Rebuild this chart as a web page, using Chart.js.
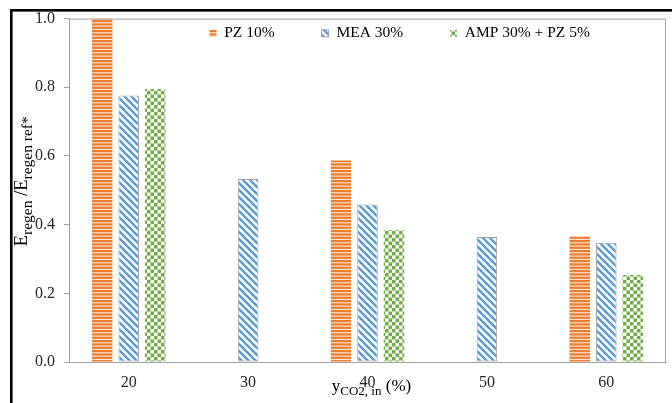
<!DOCTYPE html>
<html>
<head>
<meta charset="utf-8">
<script src="https://cdn.jsdelivr.net/npm/chart.js@4/dist/chart.umd.min.js"></script>
<style>
  html, body { margin: 0; padding: 0; background: #ffffff; }
  #wrap { width: 672px; height: 403px; position: relative; }
</style>
</head>
<body>
<div id="wrap"><canvas id="c" width="672" height="403"></canvas></div>
<script>
// CO2 inlet fraction (%) and relative regeneration energy per solvent
const categories = ['20', '30', '40', '50', '60'];
const pz10 = [1.0, null, 0.587, null, 0.366];
const mea30 = [0.776, 0.533, 0.459, 0.364, 0.347];
const amp30pz5 = [0.795, null, 0.384, null, 0.253];
const seriesNames = ['PZ 10%', 'MEA 30%', 'AMP 30% + PZ 5%'];
const yTickValues = [0, 0.2, 0.4, 0.6, 0.8, 1.0];

const SERIF = "'Liberation Serif', 'Times New Roman', serif";
const AXIS_GREY = '#A0A0A0';
const PLOT_TOP = 19;

const canvas = document.getElementById('c');
const ctx = canvas.getContext('2d');

function makeTile(w, h, paint) {
  const t = document.createElement('canvas');
  t.width = w; t.height = h;
  paint(t.getContext('2d'), w, h);
  return t;
}

// horizontal orange stripes
const stripeFill = ctx.createPattern(makeTile(4, 10, (g, w, h) => {
  g.fillStyle = '#FCE4D6';
  g.fillRect(0, 0, w, h);
  g.fillStyle = '#ED7D31';
  for (let i = 0; i < 3; i++) g.fillRect(0, i * h / 3, w, 2.2);
}), 'repeat');

// blue downward diagonals on white
const diagFill = ctx.createPattern(makeTile(7, 7, (g, w, h) => {
  g.fillStyle = '#ffffff';
  g.fillRect(0, 0, w, h);
  g.strokeStyle = '#5B9BD5';
  g.lineWidth = 2.4;
  for (const o of [-w, 0, w]) {
    g.beginPath();
    g.moveTo(o - 1, -1);
    g.lineTo(o + w + 1, h + 1);
    g.stroke();
  }
}), 'repeat');

// green checkerboard
const checkFill = ctx.createPattern(makeTile(7, 7, (g, w, h) => {
  g.fillStyle = '#ffffff';
  g.fillRect(0, 0, w, h);
  g.fillStyle = '#70AD47';
  g.fillRect(0, 0, w / 2, h / 2);
  g.fillRect(w / 2, h / 2, w / 2, h / 2);
}), 'repeat');

// draws a run of text pieces, some lowered as subscripts
function drawRich(g, parts, x, y) {
  let cx = x;
  for (const p of parts) {
    g.font = p.size + 'px ' + SERIF;
    g.fillText(p.t, cx, y + (p.dy || 0));
    cx += g.measureText(p.t).width;
  }
  return cx - x;
}
function richWidth(g, parts) {
  let w = 0;
  for (const p of parts) {
    g.font = p.size + 'px ' + SERIF;
    w += g.measureText(p.t).width;
  }
  return w;
}

const yTitleParts = [
  { t: 'E', size: 18.5 },
  { t: 'regen', size: 15.5, dy: 4.5 },
  { t: ' /E', size: 18.5 },
  { t: 'regen ref*', size: 15.5, dy: 4.5 }
];
const xTitleParts = [
  { t: 'y', size: 17 },
  { t: 'CO2, in', size: 13, dy: 4 },
  { t: ' (%)', size: 17 }
];

const framePlugin = {
  id: 'frame',
  beforeDraw(chart) {
    // move the legend row inside the plot, above the bars
    const lg = chart.legend;
    if (!lg || !lg.lineWidths) return;
    const pad = lg.options.labels.padding;
    const lw = lg.lineWidths[0];
    const startX = chart.chartArea.left + 140;
    const midY = chart.chartArea.top + 15;
    lg.left = startX - pad;
    lg.right = startX + lw + 1;
    lg.top = midY - pad - 8;
    lg.bottom = midY + pad + 16;
    lg.width = lg.right - lg.left;
    lg.height = lg.bottom - lg.top;
  },
  afterDraw(chart) {
    const g = chart.ctx;
    const a = chart.chartArea;
    g.save();
    // plot border (top and right)
    g.strokeStyle = AXIS_GREY;
    g.lineWidth = 1;
    g.beginPath();
    g.moveTo(a.left, a.top + 0.5);
    g.lineTo(Math.round(a.right) - 0.5, a.top + 0.5);
    g.lineTo(Math.round(a.right) - 0.5, a.bottom);
    g.stroke();

    // outer black frame
    g.fillStyle = '#000000';
    g.fillRect(10, 9, chart.width - 10, 2.6);
    g.fillRect(10, 9, 2.6, chart.height - 9);

    // axis titles
    g.fillStyle = '#000000';
    g.textBaseline = 'alphabetic';
    g.textAlign = 'left';
    const yw = richWidth(g, yTitleParts);
    g.save();
    g.translate(27, (a.top + a.bottom) / 2 - 9 + yw / 2);
    g.rotate(-Math.PI / 2);
    drawRich(g, yTitleParts, 0, 0);
    g.restore();

    const xw = richWidth(g, xTitleParts);
    drawRich(g, xTitleParts, (a.left + a.right) / 2 + 4 - xw / 2, 391);
    g.restore();
  }
};

const chart = new Chart(canvas, {
  type: 'bar',
  data: {
    labels: categories,
    datasets: [
      {
        label: seriesNames[0],
        data: pz10,
        backgroundColor: stripeFill,
        borderWidth: 0
      },
      {
        label: seriesNames[1],
        data: mea30,
        backgroundColor: diagFill,
        borderColor: AXIS_GREY,
        borderWidth: 1,
        borderSkipped: false
      },
      {
        label: seriesNames[2],
        data: amp30pz5,
        backgroundColor: checkFill,
        borderWidth: 0
      }
    ]
  },
  options: {
    responsive: false,
    animation: false,
    devicePixelRatio: 1,
    layout: { padding: { left: 0, top: PLOT_TOP, right: 6, bottom: 0 } },
    datasets: {
      bar: { categoryPercentage: 0.666, barPercentage: 0.774 }
    },
    scales: {
      x: {
        grid: { display: false, drawTicks: false },
        border: { display: true, color: AXIS_GREY, width: 1 },
        ticks: {
          color: '#262626',
          font: { family: SERIF, size: 16 },
          padding: 11,
          maxRotation: 0
        },
        afterFit(scale) { scale.height = 41; }
      },
      y: {
        min: 0,
        max: 1,
        afterBuildTicks(scale) {
          scale.ticks = yTickValues.map(v => ({ value: v }));
        },
        grid: {
          display: true,
          drawOnChartArea: false,
          drawTicks: true,
          tickLength: 5,
          color: AXIS_GREY
        },
        border: { display: true, color: AXIS_GREY, width: 1 },
        ticks: {
          color: '#262626',
          font: { family: SERIF, size: 16 },
          padding: 9,
          callback: v => Number(v).toFixed(1)
        },
        afterFit(scale) { scale.width = 69; }
      }
    },
    plugins: {
      legend: {
        position: 'top',
        align: 'center',
        labels: {
          boxWidth: 7,
          boxHeight: 7,
          padding: 47,
          color: '#000000',
          font: { family: SERIF, size: 15.5 }
        }
      },
      tooltip: { enabled: false }
    }
  },
  plugins: [framePlugin]
});

// the legend row sits inside the plot, so take its height back out of the top margin
chart.options.layout.padding.top = PLOT_TOP - chart.legend.height;
chart.update();
</script>
</body>
</html>
